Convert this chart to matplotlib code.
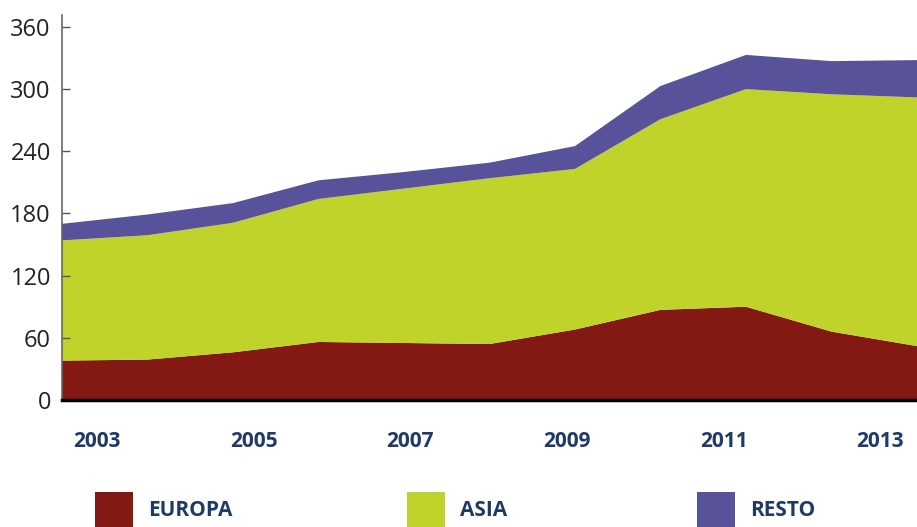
import numpy as np
import matplotlib
matplotlib.use("Agg")
from matplotlib import pyplot as plt
from matplotlib.patches import Rectangle

years = np.arange(2003, 2014)
europa = [38, 39, 46, 56, 55, 54, 68, 87, 90, 66, 52]
asia = [116, 120, 125, 138, 149, 160, 155, 184, 210, 229, 240]
resto = [16, 20, 19, 18, 16, 15, 22, 32, 33, 32, 36]

series_names = ["EUROPA", "ASIA", "RESTO"]
colors = ["#841812", "#c0d32a", "#57529a"]

year_labels = ["2003", "2005", "2007", "2009", "2011", "2013"]
y_ticks = [0, 60, 120, 180, 240, 300, 360]

navy = "#1e3a66"

fig = plt.figure(figsize=(9.17, 5.27), dpi=100)
ax = fig.add_axes([0.0676, 0.241, 0.9324, 0.7305])

ax.stackplot(years, europa, asia, resto, colors=colors, linewidth=0)
ax.set_xlim(years[0], years[-1])
ax.set_ylim(0, 371.5)

# year labels sit slightly off the data vertices in the original
label_pos = [2003.41 + (int(y) - 2003) * 0.916 for y in year_labels]
ax.set_xticks(label_pos)
ax.set_xticklabels(year_labels, fontfamily="Open Sans", fontweight="bold",
                   fontsize=15, color=navy)
ax.tick_params(axis="x", length=0, pad=22)

ax.set_yticks(y_ticks)
ax.set_yticklabels([str(v) for v in y_ticks], fontfamily="Open Sans",
                   fontsize=17, color="#222222")
ax.tick_params(axis="y", direction="in", length=6, width=1,
               color="#555555", pad=8)

for side in ["top", "right"]:
    ax.spines[side].set_visible(False)
ax.spines["left"].set_color("#666666")
ax.spines["left"].set_linewidth(1.2)
ax.spines["bottom"].set_color("black")
ax.spines["bottom"].set_linewidth(2.5)

# legend
legend_x = [95, 407, 697]
W, H = 917.0, 527.0
for name, col, px in zip(series_names, colors, legend_x):
    fig.patches.append(Rectangle((px / W, 0), 38 / W, 35 / H,
                                 transform=fig.transFigure,
                                 facecolor=col, edgecolor="none"))
    fig.text((px + 53) / W, 1 - 511 / H, name, fontfamily="Open Sans",
             fontweight="bold", fontsize=15, color=navy, va="center")

fig.savefig("out.png", dpi=100)
